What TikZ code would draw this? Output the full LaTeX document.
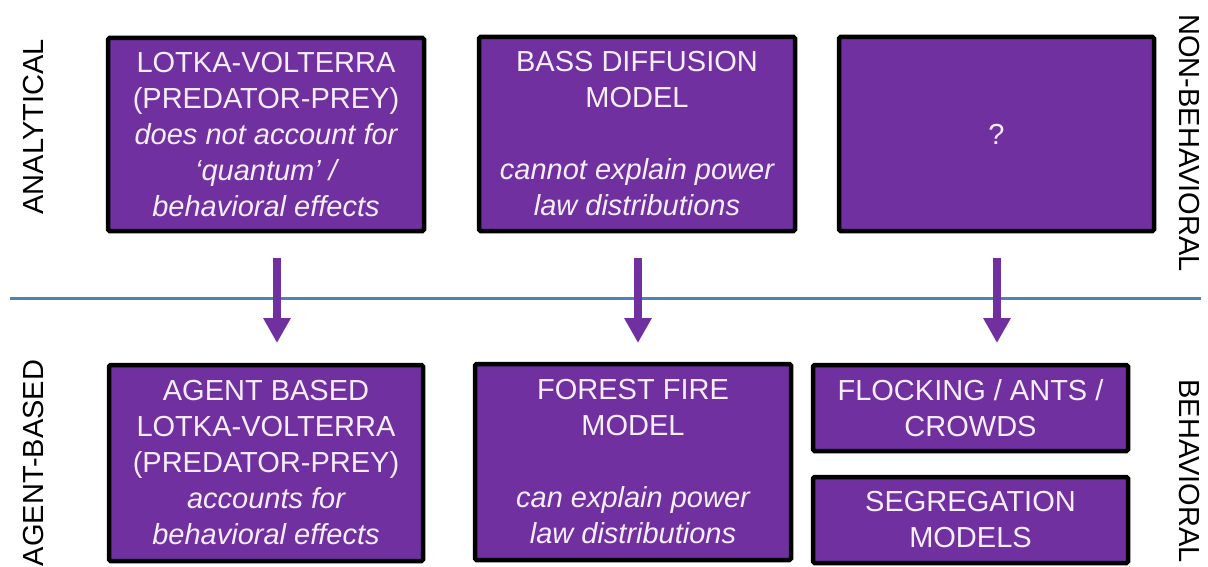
\documentclass[tikz,border=0pt]{standalone}
\usepackage{fontspec}
\setmainfont{Liberation Sans}
\usetikzlibrary{arrows.meta}
\definecolor{boxpurple}{HTML}{7030A0}
\definecolor{boxtext}{HTML}{F6EEF9}
\definecolor{divider}{HTML}{4F81BD}
\tikzset{
  modelbox/.style={draw=black, line width=4.5pt, fill=boxpurple, text=boxtext,
    rounded corners=1.5pt, inner sep=0pt, align=center,
    font=\fontsize{29}{36}\selectfont},
  sidelabel/.style={font=\fontsize{29}{33}\selectfont, text=black, inner sep=0pt},
  flow/.style={draw=boxpurple, line width=8.5pt,
    -{Triangle[width=26pt,length=25pt]}},
  split/.style={draw=divider, line width=3pt}
}
\begin{document}
\begin{tikzpicture}[x=1pt,y=-1pt]
\useasboundingbox (0,0) rectangle (1208,567);

% horizontal divider between the two rows
\coordinate (divL) at (10,298);
\coordinate (divR) at (1201,298);
\draw[split] (divL) -- (divR);

% top row: analytical models
\node[modelbox, minimum width=316pt, minimum height=193pt] (lv) at (266,134.5)
  {LOTKA-VOLTERRA\\(PREDATOR-PREY)\\\itshape does not account for\\\itshape `quantum' /\\\itshape behavioral effects};
\node[modelbox, minimum width=316pt, minimum height=194pt] (bass) at (637,134)
  {BASS DIFFUSION\\MODEL\\[36pt]\itshape cannot explain power\\\itshape law distributions};
\node[modelbox, minimum width=315pt, minimum height=194pt] (unk) at (996.5,134)
  {?};

% bottom row: agent-based models
\node[modelbox, minimum width=314pt, minimum height=196pt] (ablv) at (266,463)
  {AGENT BASED\\LOTKA-VOLTERRA\\(PREDATOR-PREY)\\\itshape accounts for\\\itshape behavioral effects};
\node[modelbox, minimum width=316pt, minimum height=196pt] (fire) at (633,462)
  {FOREST FIRE\\MODEL\\[36pt]\itshape can explain power\\\itshape law distributions};
\node[modelbox, minimum width=315pt, minimum height=86pt] (flock) at (970.5,408)
  {FLOCKING / ANTS /\\CROWDS};
\node[modelbox, minimum width=315pt, minimum height=86pt] (segr) at (970.5,520)
  {SEGREGATION\\MODELS};

% arrows from each analytical model to its agent-based counterpart
\coordinate (a1s) at (277,258);  \coordinate (a1e) at (277,343);
\coordinate (a2s) at (638,258);  \coordinate (a2e) at (638,343);
\coordinate (a3s) at (997,258);  \coordinate (a3e) at (997,343);
\draw[flow] (a1s) -- (a1e);
\draw[flow] (a2s) -- (a2e);
\draw[flow] (a3s) -- (a3e);

% side labels
\node[sidelabel, rotate=90] (lanal) at (34,127) {ANALYTICAL};
\node[sidelabel, rotate=90] (lagent) at (34,463) {AGENT-BASED};
\node[sidelabel, rotate=-90] (lnonb) at (1189,143) {NON-BEHAVIORAL};
\node[sidelabel, rotate=-90] (lbeh) at (1189,471) {BEHAVIORAL};
\end{tikzpicture}
\end{document}
